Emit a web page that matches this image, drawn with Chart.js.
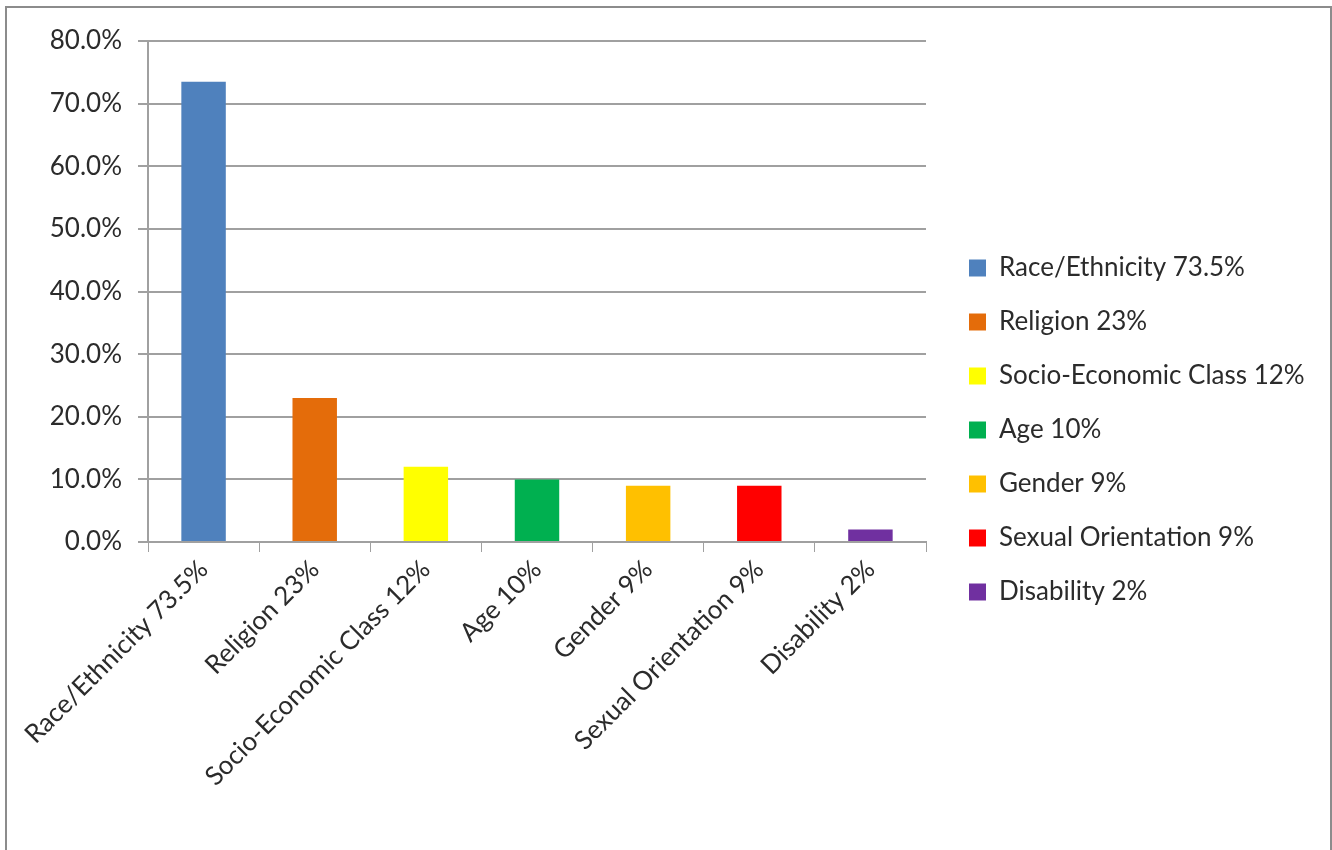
<!DOCTYPE html>
<html>
<head>
<meta charset="utf-8">
<script src="https://cdn.jsdelivr.net/npm/chart.js@4/dist/chart.umd.min.js"></script>
<style>
  html, body { margin: 0; padding: 0; background: #fff; }
  #wrap { position: relative; width: 1332px; height: 850px; }
  #frame {
    position: absolute; left: 5px; top: 6px; right: 0; bottom: -10px;
    border: 2px solid #8c8c8c; pointer-events: none;
  }
</style>
</head>
<body>
<div id="wrap">
  <canvas id="myChart" width="1332" height="850"></canvas>
  <div id="frame"></div>
</div>
<script>
const labels = [
  'Race/Ethnicity 73.5%',
  'Religion 23%',
  'Socio-Economic Class 12%',
  'Age 10%',
  'Gender 9%',
  'Sexual Orientation 9%',
  'Disability 2%',
];
const values = [73.5, 23, 12, 10, 9, 9, 2];
const colors = ['#4F81BD', '#E46C0A', '#FFFF00', '#00B050', '#FFC000', '#FF0000', '#7030A0'];

const gridColor = '#a0a0a0';
const textColor = '#2b2b2b';
const font = {family: 'Lato', size: 26};

// push the legend a bit away from the plot and let it use the full right side
const legendShift = {
  id: 'legendShift',
  afterLayout(chart) {
    chart.legend.left += 15;
    chart.legend.right = chart.width;
    chart.legend.width = chart.legend.right - chart.legend.left;
  }
};

const config = {
  type: 'bar',
  data: {
    labels: labels,
    datasets: [{
      data: values,
      backgroundColor: colors,
      borderWidth: 0,
      barPercentage: 0.4,
      categoryPercentage: 1
    }]
  },
  options: {
    responsive: false,
    animation: false,
    layout: {padding: {top: 41, left: 0, right: 106, bottom: 31}},
    plugins: {
      tooltip: {enabled: false},
      legend: {
        position: 'right',
        maxWidth: 300,
        labels: {
          font: font,
          color: textColor,
          boxWidth: 17,
          boxHeight: 17,
          padding: 28,
          generateLabels: () => labels.map((l, i) => ({
            text: l,
            fillStyle: colors[i],
            strokeStyle: colors[i],
            lineWidth: 0,
            fontColor: textColor,
            index: i
          }))
        }
      }
    },
    scales: {
      x: {
        grid: {offset: true, drawOnChartArea: false, drawTicks: true, tickLength: 10, color: gridColor},
        border: {color: gridColor, width: 2},
        ticks: {font: font, color: textColor, minRotation: 45, maxRotation: 45, padding: 2, autoSkip: false},
        afterFit(scale) { scale.height = 850 - 31 - 542; }
      },
      y: {
        min: 0,
        max: 80,
        grid: {color: gridColor, lineWidth: 2, drawTicks: true, tickLength: 10},
        border: {color: gridColor, width: 2},
        ticks: {
          stepSize: 10,
          font: font,
          color: textColor,
          padding: 16,
          callback: v => v.toFixed(1) + '%'
        },
        afterFit(scale) { scale.width = 148; }
      }
    }
  },
  plugins: [legendShift]
};

const myChart = new Chart(document.getElementById('myChart'), config);
</script>
</body>
</html>
